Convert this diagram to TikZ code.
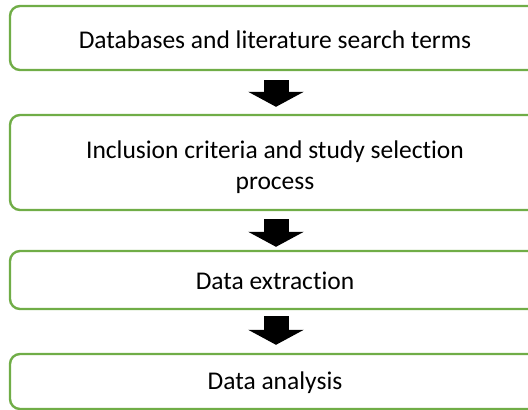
\documentclass[tikz,border=0pt]{standalone}
\usepackage{fontspec}
\setmainfont{Carlito}[Ligatures={NoCommon}]
\usetikzlibrary{arrows.meta,calc}
\definecolor{boxgreen}{HTML}{70AD47}
\tikzset{
  stepbox/.style={draw=boxgreen, line width=2.4pt, rounded corners=10pt, fill=white,
    minimum width=530pt, inner sep=0pt, align=center, font=\fontsize{25.5}{31}\selectfont},
  downarrow/.style={line width=25pt, -{Triangle[width=55pt,length=15pt]}, black}
}
\begin{document}
\begin{tikzpicture}[x=1pt,y=1pt]
\useasboundingbox (0,0) rectangle (528,-410);
\node[stepbox, minimum height=64pt] (b1) at (275,-38) {\rule{0pt}{22pt}Databases and literature search terms};
\node[stepbox, minimum height=95pt] (b2) at (275,-162.5) {\rule{0pt}{28pt}Inclusion criteria and study selection\\process};
\node[stepbox, minimum height=58pt] (b3) at (275,-280) {\rule{0pt}{20pt}Data extraction};
\node[stepbox, minimum height=55pt] (b4) at (275,-381.5) {\rule{0pt}{20pt}Data analysis};
\draw[downarrow] ($(b1.south)+(1,-9)$) -- ($(b2.north)+(1,7)$);
\draw[downarrow] ($(b2.south)+(1,-8)$) -- ($(b3.north)+(1,3)$);
\draw[downarrow] ($(b3.south)+(1,-6)$) -- ($(b4.north)+(1,8)$);
\end{tikzpicture}
\end{document}
